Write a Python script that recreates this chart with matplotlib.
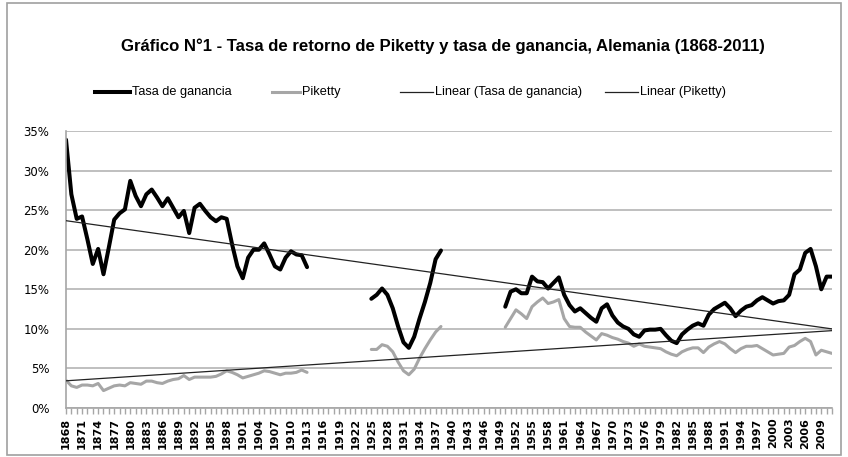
import numpy as np
import pandas as pd
import matplotlib
matplotlib.use("Agg")
import matplotlib.pyplot as plt
import matplotlib.ticker as mtick
from matplotlib.lines import Line2D
from matplotlib.patches import Rectangle

# --- data (% values) ---
years = np.arange(1868, 2012)

tasa_1868_1913 = [33.9, 27.0, 23.9, 24.2, 21.3, 18.2, 20.1, 16.9, 20.3, 23.8,
                  24.6, 25.1, 28.7, 26.8, 25.5, 27.0, 27.6, 26.6, 25.5, 26.5,
                  25.3, 24.1, 24.9, 22.1, 25.3, 25.8, 24.9, 24.1, 23.6, 24.1,
                  23.9, 20.7, 17.9, 16.4, 19.0, 20.0, 20.0, 20.8, 19.4, 17.9,
                  17.5, 19.0, 19.8, 19.4, 19.3, 17.8]
tasa_1925_1938 = [13.8, 14.3, 15.1, 14.3, 12.6, 10.3, 8.3, 7.6, 9.0, 11.3,
                  13.4, 15.8, 18.8, 19.9]
tasa_1950_2011 = [12.8, 14.7, 15.0, 14.5, 14.5, 16.6, 16.0, 15.9, 15.1, 15.8,
                  16.5, 14.3, 13.0, 12.2, 12.6, 12.0, 11.4, 10.9, 12.6, 13.1,
                  11.7, 10.8, 10.3, 10.0, 9.3, 9.0, 9.8, 9.9, 9.9, 10.0,
                  9.2, 8.5, 8.2, 9.3, 9.9, 10.4, 10.7, 10.4, 11.8, 12.5,
                  12.9, 13.3, 12.6, 11.6, 12.3, 12.8, 13.0, 13.6, 14.0, 13.6,
                  13.2, 13.5, 13.6, 14.3, 16.9, 17.5, 19.6, 20.1, 17.9, 15.0,
                  16.6, 16.6]

piketty_1868_1913 = [3.5, 2.8, 2.6, 2.9, 2.9, 2.8, 3.1, 2.2, 2.5, 2.8,
                     2.9, 2.8, 3.2, 3.1, 3.0, 3.4, 3.4, 3.2, 3.1, 3.4,
                     3.6, 3.7, 4.1, 3.6, 3.9, 3.9, 3.9, 3.9, 4.0, 4.3,
                     4.7, 4.5, 4.2, 3.8, 4.0, 4.2, 4.4, 4.7, 4.6, 4.4,
                     4.2, 4.4, 4.4, 4.5, 4.8, 4.5]
piketty_1925_1938 = [7.4, 7.4, 8.0, 7.8, 7.1, 5.8, 4.7, 4.2, 4.9, 6.3,
                     7.5, 8.6, 9.6, 10.3]
piketty_1950_2011 = [10.2, 11.3, 12.4, 11.9, 11.3, 12.8, 13.4, 13.9, 13.2, 13.4,
                     13.7, 11.3, 10.3, 10.2, 10.2, 9.6, 9.1, 8.6, 9.4, 9.2,
                     8.9, 8.7, 8.4, 8.2, 7.8, 8.1, 7.8, 7.7, 7.6, 7.5,
                     7.1, 6.8, 6.6, 7.1, 7.4, 7.6, 7.6, 7.0, 7.7, 8.1,
                     8.4, 8.1, 7.5, 7.0, 7.5, 7.8, 7.8, 7.9, 7.5, 7.1,
                     6.7, 6.8, 6.9, 7.7, 7.9, 8.4, 8.8, 8.4, 6.7, 7.3,
                     7.1, 6.9]

title = "Gráfico N°1 - Tasa de retorno de Piketty y tasa de ganancia, Alemania (1868-2011)"
labels = ["Tasa de ganancia", "Piketty", "Linear (Tasa de ganancia)", "Linear (Piketty)"]


def full_series(a, b, c):
    s = pd.Series(np.nan, index=years)
    s.loc[1868:1913] = a
    s.loc[1925:1938] = b
    s.loc[1950:2011] = c
    return s


tasa = full_series(tasa_1868_1913, tasa_1925_1938, tasa_1950_2011)
piketty = full_series(piketty_1868_1913, piketty_1925_1938, piketty_1950_2011)


def trend(s):
    ok = s.dropna()
    k, b = np.polyfit(ok.index.values, ok.values, 1)
    return k * years + b


W, H = 848, 457
fig = plt.figure(figsize=(W / 100, H / 100), dpi=100)
fig.patches.append(Rectangle((7 / W, 2 / H), (841 - 7) / W, (454 - 2) / H,
                             transform=fig.transFigure, fill=False,
                             edgecolor="#a0a0a0", lw=1.2))

ax = fig.add_axes([66 / W, 1 - 408 / H, (832 - 66) / W, (408 - 131) / H])

line_kw = dict(solid_joinstyle="round", solid_capstyle="round")
l1, = ax.plot(years, tasa.values, color="black", lw=2.9, zorder=2, **line_kw)
l2, = ax.plot(years, piketty.values, color="#a6a6a6", lw=2.2, zorder=2, **line_kw)
l3, = ax.plot(years, trend(tasa), color="#222222", lw=0.9, zorder=3)
l4, = ax.plot(years, trend(piketty), color="#222222", lw=0.9, zorder=3)

ax.set_xlim(1868, 2011)
ax.set_ylim(0, 35)
ax.set_yticks(np.arange(0, 36, 5))
ax.yaxis.set_major_formatter(mtick.FuncFormatter(lambda v, p: f"{v:.0f}%"))
ax.yaxis.grid(True, color="#b4b4b4", lw=1.2)
ax.set_axisbelow(True)

ax.set_xticks(years)
ax.set_xticklabels([str(y) if (y - 1868) % 3 == 0 else "" for y in years],
                   rotation=90, fontsize=8, fontweight="bold")
ax.tick_params(axis="x", length=4, width=1, color="#a6a6a6", pad=3)
ax.tick_params(axis="y", length=0, labelsize=8.5, pad=12)

for side in ("top", "right"):
    ax.spines[side].set_visible(False)
for side in ("left", "bottom"):
    ax.spines[side].set_color("#a6a6a6")
    ax.spines[side].set_linewidth(1.2)

fig.text(443 / W, 1 - 46 / H, title, ha="center", va="center",
         fontsize=12.1, fontweight="bold", family=["Liberation Sans", "DejaVu Sans"])

# legend, placed like the Excel one
leg_y = 1 - 92 / H
leg_items = [(95, 130, l1), (272, 300, l2), (400, 433, l3), (605, 638, l4)]
for (x0, x1, ln), text in zip(leg_items, labels):
    fig.add_artist(Line2D([x0 / W, x1 / W], [leg_y, leg_y], transform=fig.transFigure,
                          color=ln.get_color(), lw=ln.get_linewidth()))
    fig.text((x1 + 2) / W, leg_y, text, ha="left", va="center", fontsize=9.2,
             family=["Liberation Sans", "DejaVu Sans"])

fig.savefig("out.png", dpi=100)
